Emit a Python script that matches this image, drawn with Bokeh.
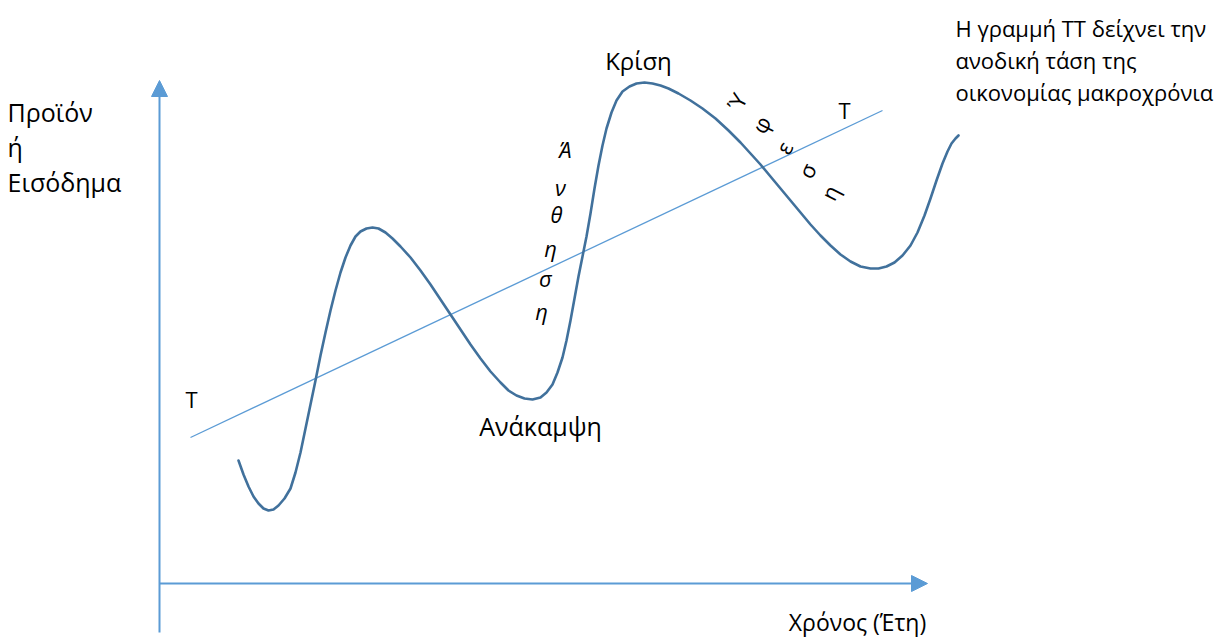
from bokeh.plotting import figure
from bokeh.models import Range1d, Arrow, NormalHead, ColumnDataSource
from bokeh.core.properties import value
from bokeh.embed import file_html
from bokeh.resources import INLINE

# ---- data (diagram coordinates: x = time, y = position, larger y = lower) ----
cycle_x = [238, 243, 248, 253, 258, 263, 268, 273, 278, 284, 290, 295, 300, 305, 310,
           315, 320, 325, 330, 335, 340, 345, 350, 355, 360, 366, 372, 378, 385, 392,
           400, 410, 420, 430, 440, 450, 460, 470, 480, 490, 500, 508, 516, 524, 532,
           540, 546, 552, 557, 562, 566, 570, 574, 578, 582, 586, 590, 594, 598, 602,
           606, 611, 616, 622, 629, 636, 644, 652, 660, 668, 678, 690, 702, 715, 728,
           740, 750, 760, 770, 780, 790, 800, 810, 820, 830, 840, 850, 860, 870, 878,
           886, 894, 902, 910, 917, 924, 930, 936, 942, 947, 951, 955, 958]
cycle_y = [460, 474, 486, 496, 503, 508, 510, 509, 505, 498, 488, 472, 452, 428, 404,
           380, 355, 332, 310, 290, 272, 257, 245, 236, 231, 228, 227, 228, 232, 238,
           246, 257, 270, 284, 299, 314, 329, 344, 358, 371, 382, 390, 395, 398, 399,
           397, 392, 384, 372, 357, 340, 320, 298, 276, 256, 236, 213, 188, 165, 145,
           128, 112, 100, 91, 86, 83, 82, 83, 85, 88, 93, 100, 108, 118, 130,
           142, 153, 164, 176, 188, 200, 212, 224, 235, 245, 254, 261, 266, 268, 268,
           266, 262, 255, 245, 232, 215, 198, 180, 163, 151, 143, 138, 135]

trend_x = [190, 882]
trend_y = [437, 110]

upswing_letters = ["Ά", "ν", "θ", "η", "σ", "η"]
upswing_x = [565, 560, 556, 550, 545, 541]
upswing_y = [148, 186, 213, 247, 277, 310]

downswing_letters = ["Ύ", "φ", "ε", "σ", "η"]
downswing_x = [736, 760, 783, 806, 829]
downswing_y = [101, 124, 147, 170, 192]

note_lines = ["Η γραμμή ΤΤ δείχνει την", "ανοδική τάση της", "οικονομίας μακροχρόνια"]
y_label_lines = ["Προϊόν", "ή", "Εισόδημα"]
x_label = "Χρόνος (Έτη)"
peak_label = "Κρίση"
trough_label = "Ανάκαμψη"
trend_label = "T"

FONT = "Open Sans"
AXIS_C = "#5B9BD5"
CURVE_C = "#41719C"

p = figure(width=1226, height=639, output_backend="svg", toolbar_location=None,
           x_range=Range1d(0, 1226), y_range=Range1d(639, 0),
           min_border=0, outline_line_color=None)
p.axis.visible = False
p.grid.visible = False
p.background_fill_color = "white"
p.border_fill_color = "white"

# axes with arrowheads
p.add_layout(Arrow(end=NormalHead(size=16, fill_color=AXIS_C, line_color=AXIS_C),
                   x_start=159, y_start=632, x_end=159, y_end=80,
                   line_color=AXIS_C, line_width=2))
p.add_layout(Arrow(end=NormalHead(size=16, fill_color=AXIS_C, line_color=AXIS_C),
                   x_start=159, y_start=583, x_end=927, y_end=583,
                   line_color=AXIS_C, line_width=2))

# trend line
p.line(trend_x, trend_y, line_color=AXIS_C, line_width=1.3)

# business cycle curve
p.line(cycle_x, cycle_y, line_color=CURVE_C, line_width=2.6, line_cap="round", line_join="round")

def label(x, y, t, size="22px", align="left", style="normal", angle=0):
    p.text(x=[x], y=[y], text=[t], text_font=value(FONT), text_font_size=size,
           text_align=align, text_baseline="middle", text_color="black",
           text_font_style=style, angle=angle)

for i, t in enumerate(y_label_lines):
    label(7, 111 + 35 * i, t, size="25px")
for i, t in enumerate(note_lines):
    label(955, 27 + 32 * i, t, size="22px")
label(857, 621, x_label, size="23px", align="center")
label(638, 60, peak_label, size="24px", align="center")
label(540, 425, trough_label, size="25px", align="center")
label(191, 398, trend_label, size="22px", align="center")
label(844, 109, trend_label, size="22px", align="center")

src_up = ColumnDataSource(dict(x=upswing_x, y=upswing_y, t=upswing_letters))
p.text(x="x", y="y", text="t", source=src_up, text_font=value(FONT), text_font_size="22px",
       text_font_style="italic", text_align="center", text_baseline="middle", text_color="black")

src_down = ColumnDataSource(dict(x=downswing_x, y=downswing_y, t=downswing_letters))
p.text(x="x", y="y", text="t", source=src_down, text_font=value(FONT), text_font_size="22px",
       text_align="center", text_baseline="middle", text_color="black", angle=1.1)

open("out.html", "w").write(file_html(p, INLINE))
